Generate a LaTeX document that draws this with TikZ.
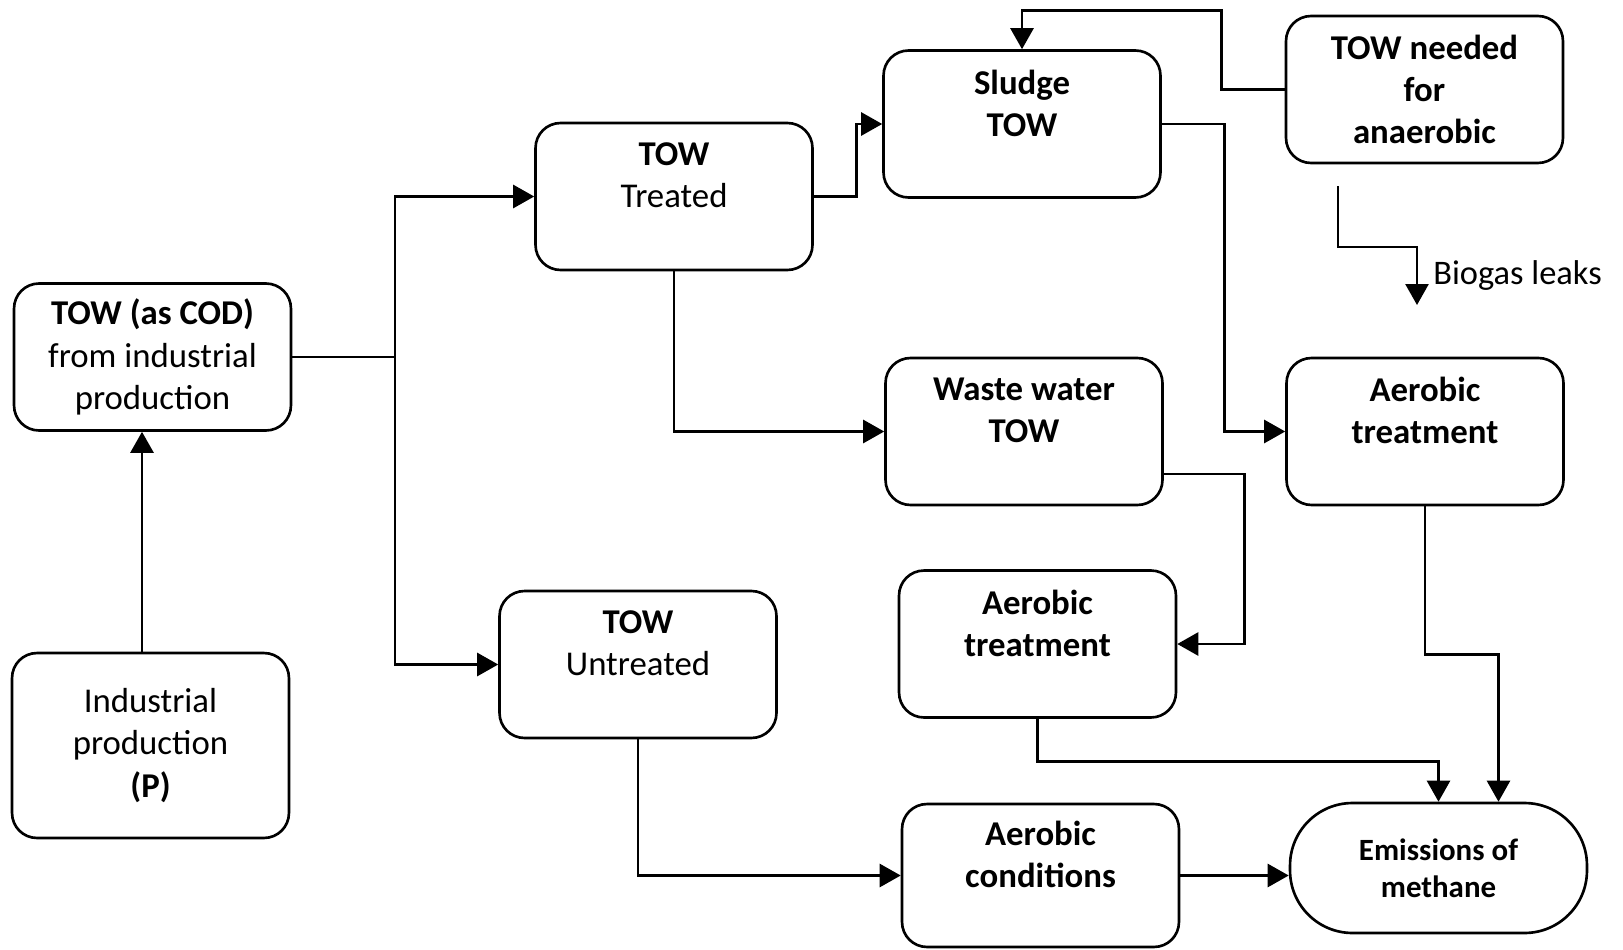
\documentclass[tikz,border=0pt]{standalone}
\usepackage{fontspec}
\setmainfont{Carlito}
\usetikzlibrary{arrows.meta}

\begin{document}
\begin{tikzpicture}[x=0.02cm, y=-0.02cm,
  box/.style={rectangle, draw, line width=1.5pt, rounded corners=0.5cm,
    minimum width=5.54cm, minimum height=2.94cm, align=center,
    font=\fontsize{19.8}{24}\selectfont},
  ebox/.style={box, rounded corners=1.25cm, minimum width=5.94cm,
    minimum height=2.6cm, font=\fontsize{17.6}{21}\selectfont\bfseries},
  arr/.style={line width=1.5pt, -{Triangle[length=0.42cm, width=0.46cm]}},
  line/.style={line width=1.5pt},
  lbl/.style={font=\fontsize{19.6}{23}\selectfont, inner sep=0pt},
]
\useasboundingbox (0,0) rectangle (1623,950);

% Left column
\node[box] (cod) at (152.5, 357) {\textbf{TOW (as COD)}\\from industrial\\production};
\node[box, minimum height=3.7cm] (ind) at (150.5, 745.5) {Industrial\\production\\\textbf{(P)}};

% Treated / untreated
\node[box] (trt) at (674, 196.5) {\textbf{TOW}\\Treated\\\mbox{}};
\node[box] (unt) at (638, 664.5) {\textbf{TOW}\\Untreated\\\mbox{}};

% Middle column
\node[box] (sld) at (1022, 124) {\textbf{Sludge}\\\textbf{TOW}\\\mbox{}};
\node[box] (ww) at (1024, 431.5) {\textbf{Waste water}\\\textbf{TOW}\\\mbox{}};
\node[box] (aer2) at (1037.5, 644) {\textbf{Aerobic}\\\textbf{treatment}\\\mbox{}};
\node[box, minimum height=2.86cm] (acd) at (1040.5, 875.5) {\textbf{Aerobic}\\\textbf{conditions}\\\mbox{}};

% Right column
\node[box] (ned) at (1424.5, 89.5) {\textbf{TOW needed}\\\textbf{for}\\\textbf{anaerobic}};
\node[box] (aer1) at (1425, 431.5) {\textbf{Aerobic}\\\textbf{treatment}\\\mbox{}};
\node[ebox] (em) at (1438.5, 868) {Emissions of\\methane};

% Biogas leaks
\coordinate (bgs) at (1338, 186);
\coordinate (bge) at (1417, 305);
\node[lbl, anchor=west] (bgl) at (1433, 276) {Biogas leaks};

% Connectors
\draw[arr] ([xshift=-0.17cm]ind.north) -- ([xshift=-0.17cm]ind.north |- cod.south);
\coordinate (split) at (395, 357);
\draw[line] (cod.east) -- (split);
\draw[arr] (split) |- (trt.west);
\draw[arr] (split) |- (unt.west);
\draw[arr] (trt.east) -- ++(43,0) |- (sld.west);
\draw[arr] (trt.south) |- (ww.west);
\draw[arr] (sld.east) -- ++(63,0) |- (aer1.west);
\draw[arr] (ned.west) -- ++(-63,0) -- ++(0,-79) -| (sld.north);
\draw[arr] (bgs) -- ++(0,61) -| (bge);
\draw[arr] ([yshift=-0.85cm]ww.east) -- ++(81,0) |- (aer2.east);
\draw[arr] (aer1.south) -- ++(0,148) -| ([xshift=1.2cm]em.north);
\draw[arr] (aer2.south) -- ++(0,43) -| (em.north);
\draw[arr] (unt.south) |- (acd.west);
\draw[arr] (acd.east) -- (acd.east -| em.west);

\end{tikzpicture}
\end{document}
